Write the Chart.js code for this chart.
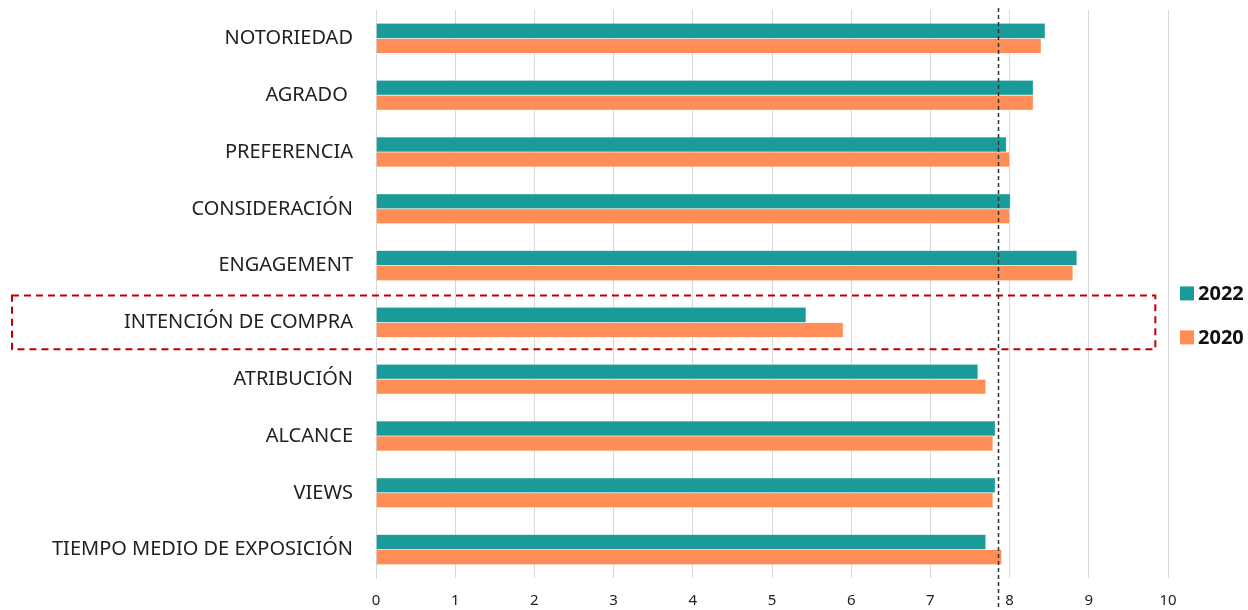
<!DOCTYPE html>
<html>
<head>
<meta charset="utf-8">
<script src="https://cdn.jsdelivr.net/npm/chart.js@4"></script>
<style>
  html, body { margin: 0; padding: 0; background: #fff; }
  #wrap { width: 1248px; height: 610px; position: relative; }
</style>
</head>
<body>
<div id="wrap"><canvas id="myChart"></canvas></div>
<script>
const categories = ['NOTORIEDAD', 'AGRADO ', 'PREFERENCIA', 'CONSIDERACIÓN', 'ENGAGEMENT',
    'INTENCIÓN DE COMPRA', 'ATRIBUCIÓN', 'ALCANCE', 'VIEWS', 'TIEMPO MEDIO DE EXPOSICIÓN'];
const values_2022 = [8.45, 8.30, 7.96, 8.01, 8.85, 5.43, 7.60, 7.82, 7.82, 7.70];
const values_2020 = [8.40, 8.30, 8.00, 8.00, 8.80, 5.90, 7.70, 7.79, 7.79, 7.90];
const series_labels = ['2022', '2020'];
const series_colors = ['#1a9b99', '#ff8d55'];
const x_ticks = [0, 1, 2, 3, 4, 5, 6, 7, 8, 9, 10];
const reference_line = 7.85;
const highlight_index = 5;

const font_family = '"Noto Sans", "Open Sans", sans-serif';

// dashed reference line + red box round the highlighted row
const overlays = {
    id: 'overlays',
    afterDatasetsDraw(chart) {
        const ctx = chart.ctx;
        const x = chart.scales.x;
        const y = chart.scales.y;
        ctx.save();

        // red dashed box
        const yc = y.getPixelForValue(highlight_index);
        const half = (y.getPixelForValue(1) - y.getPixelForValue(0)) / 2 - 1.5;
        ctx.strokeStyle = '#c00000';
        ctx.lineWidth = 2;
        ctx.setLineDash([7, 5]);
        ctx.strokeRect(12, yc - half, x.getPixelForValue(9.84) - 12, half * 2);

        // black dashed vertical line
        const xp = Math.round(x.getPixelForValue(reference_line)) + 0.5;
        ctx.strokeStyle = '#333';
        ctx.lineWidth = 1.5;
        ctx.setLineDash([4, 3]);
        ctx.beginPath();
        ctx.moveTo(xp, 8);
        ctx.lineTo(xp, chart.height);
        ctx.stroke();
        ctx.restore();
    }
};

// legend on the right, drawn from the datasets
const sideLegend = {
    id: 'sideLegend',
    afterDraw(chart) {
        const ctx = chart.ctx;
        const y = chart.scales.y;
        const mid = y.getPixelForValue(highlight_index);
        ctx.save();
        ctx.font = 'bold 20px ' + font_family;
        ctx.textBaseline = 'middle';
        ctx.textAlign = 'left';
        chart.data.datasets.forEach((ds, i) => {
            const cy = mid - 29 + i * 44;
            ctx.fillStyle = ds.backgroundColor;
            ctx.fillRect(1180, cy - 7, 14, 14);
            ctx.fillStyle = '#111';
            ctx.fillText(ds.label, 1198, cy + 1);
        });
        ctx.restore();
    }
};

const ctx = document.getElementById('myChart').getContext('2d');
const myChart = new Chart(ctx, {
    type: 'bar',
    data: {
        labels: categories,
        datasets: [{
            label: series_labels[0],
            data: values_2022,
            backgroundColor: series_colors[0],
            borderColor: '#5fbdbb',
            borderWidth: 0.5
        }, {
            label: series_labels[1],
            data: values_2020,
            backgroundColor: series_colors[1],
            borderColor: '#ffc6a8',
            borderWidth: 0.5
        }]
    },
    options: {
        indexAxis: 'y',
        responsive: true,
        maintainAspectRatio: false,
        animation: false,
        layout: { padding: { top: 10, left: 0, right: 80, bottom: 0 } },
        datasets: {
            bar: { categoryPercentage: 0.53, barPercentage: 1.0 }
        },
        scales: {
            x: {
                min: 0,
                max: 10,
                afterBuildTicks(scale) {
                    scale.ticks = x_ticks.map(v => ({ value: v }));
                },
                afterFit(scale) { scale.height = 32; },
                grid: {
                    color: '#d9d9d9',
                    lineWidth: 1,
                    drawTicks: false
                },
                border: { display: false },
                ticks: {
                    color: '#222',
                    font: { family: font_family, size: 15 },
                    padding: 14
                }
            },
            y: {
                grid: { display: false, drawTicks: false },
                border: { display: true, color: '#d9d9d9' },
                afterFit(scale) {
                    scale.width = 376;
                    scale.paddingTop = 0;
                    scale.paddingBottom = 0;
                },
                ticks: {
                    color: '#222',
                    font: { family: font_family, size: 20 },
                    padding: 23
                }
            }
        },
        plugins: {
            legend: { display: false },
            tooltip: { enabled: false }
        }
    },
    plugins: [overlays, sideLegend]
});
</script>
</body>
</html>
